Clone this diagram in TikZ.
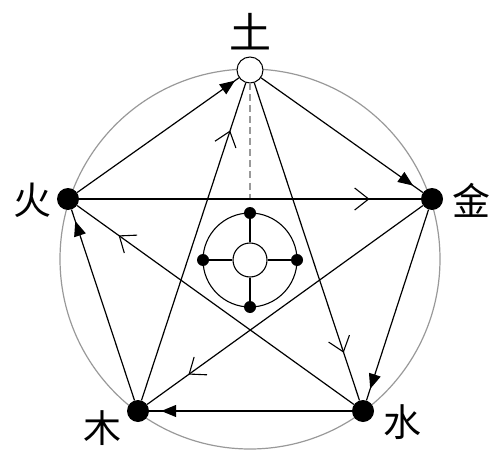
\documentclass[tikz,border=0pt]{standalone}
\usepackage{fontspec}
\newfontfamily\cjk{Noto Sans CJK SC}
\usetikzlibrary{arrows.meta,decorations.markings}
\begin{document}
\begin{tikzpicture}[x=1pt,y=-1pt,
  solidnode/.style={circle,fill=black,inner sep=0pt,minimum size=22pt},
  opennode/.style={circle,draw=black,fill=white,line width=1pt,inner sep=0pt,minimum size=26pt},
  dotnode/.style={circle,fill=black,inner sep=0pt,minimum size=12pt},
  gen/.style={line width=1.2pt, postaction={decorate}, decoration={markings, mark=at position -#1 with {\arrow{Triangle[length=15pt,width=12pt]}}}},
  gen/.default=12pt,
  ctrl/.style={line width=1.2pt, postaction={decorate}, decoration={markings, mark=at position 0.85 with {\arrow[line width=1.1pt]{Straight Barb[length=14pt,width=22pt]}}}},
  lab/.style={font=\cjk\fontsize{38}{38}\selectfont, inner sep=0pt}
]
\useasboundingbox (0,0) rectangle (500,457);
\draw[gray!80, line width=1.2pt] (250,259) circle[radius=190];
% inner figure
\coordinate (ctr) at (250,260);
\draw[line width=1.1pt] (ctr) circle[radius=47];
\node[circle,draw=black,fill=white,line width=1.1pt,inner sep=0pt,minimum size=34pt] (c0) at (ctr) {};
\node[dotnode] (d1) at (250,213) {};
\node[dotnode] (d2) at (297,260) {};
\node[dotnode] (d3) at (250,307) {};
\node[dotnode] (d4) at (203,260) {};
\foreach \d in {d1,d2,d3,d4} \draw[line width=1.1pt] (c0) -- (\d);
% main nodes
\node[opennode] (tu) at (250,70) {};
\node[solidnode] (huo) at (68,199) {};
\node[solidnode] (jin) at (432,199) {};
\node[solidnode] (mu) at (138,411) {};
\node[solidnode] (shui) at (363,411) {};
\coordinate (dashend) at (250,199);
\draw[gray!80, dash pattern=on 7pt off 4pt, line width=1.1pt] (tu) -- (dashend);
% generating cycle
\draw[gen] (mu) -- (huo);
\draw[gen=5pt] (huo) -- (tu);
\draw[gen] (tu) -- (jin);
\draw[gen] (jin) -- (shui);
\draw[gen] (shui) -- (mu);
% controlling cycle
\draw[ctrl] (huo) -- (jin);
\draw[ctrl] (jin) -- (mu);
\draw[ctrl] (mu) -- (tu);
\draw[ctrl] (tu) -- (shui);
\draw[ctrl] (shui) -- (huo);
% labels
\node[lab, font=\cjk\fontsize{42}{42}\selectfont] (ltu) at (250,32) {土};
\node[lab] (lhuo) at (32,200) {火};
\node[lab] (ljin) at (471,200) {金};
\node[lab] (lmu) at (102,428) {木};
\node[lab] (lshui) at (402,422) {水};
\end{tikzpicture}
\end{document}
